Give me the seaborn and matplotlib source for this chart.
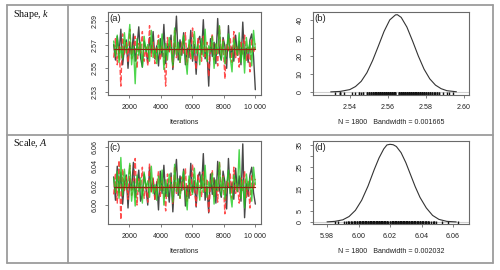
import numpy as np
import matplotlib
matplotlib.use('Agg')
import matplotlib.pyplot as plt
from matplotlib.lines import Line2D
import seaborn as sns

# ---- MCMC chains (thinned) ----
k_black = [2.570, 2.557, 2.577, 2.562, 2.583, 2.553, 2.567, 2.574, 2.550, 2.572,
           2.561, 2.579, 2.556, 2.568, 2.585, 2.559, 2.551, 2.573, 2.566, 2.555,
           2.576, 2.563, 2.581, 2.558, 2.569, 2.552, 2.575, 2.560, 2.587, 2.554,
           2.571, 2.564, 2.578, 2.549, 2.568, 2.594, 2.557, 2.574, 2.561, 2.580,
           2.553, 2.567, 2.559, 2.582, 2.556, 2.570, 2.545, 2.573, 2.577, 2.562,
           2.591, 2.558, 2.566, 2.535, 2.575, 2.560, 2.572, 2.554, 2.592, 2.563,
           2.557, 2.576, 2.569, 2.550, 2.586, 2.559, 2.568, 2.556, 2.578, 2.561,
           2.573, 2.553, 2.589, 2.558, 2.567, 2.555, 2.574, 2.579, 2.560, 2.532]
k_red = [2.559, 2.575, 2.553, 2.569, 2.535, 2.579, 2.562, 2.573, 2.555, 2.583,
         2.558, 2.567, 2.577, 2.550, 2.571, 2.563, 2.581, 2.556, 2.568, 2.552,
         2.586, 2.560, 2.572, 2.554, 2.566, 2.578, 2.557, 2.570, 2.561, 2.535,
         2.576, 2.564, 2.574, 2.551, 2.582, 2.559, 2.569, 2.555, 2.573, 2.562,
         2.580, 2.553, 2.571, 2.558, 2.584, 2.563, 2.549, 2.575, 2.568, 2.556,
         2.577, 2.560, 2.572, 2.543, 2.567, 2.579, 2.557, 2.570, 2.552, 2.585,
         2.561, 2.574, 2.541, 2.571, 2.564, 2.576, 2.555, 2.581, 2.559, 2.568,
         2.551, 2.573, 2.562, 2.578, 2.556, 2.569, 2.547, 2.575, 2.563, 2.571]
k_green = [2.573, 2.560, 2.578, 2.555, 2.568, 2.558, 2.580, 2.563, 2.571, 2.587,
           2.553, 2.569, 2.537, 2.575, 2.561, 2.572, 2.551, 2.577, 2.564, 2.570,
           2.556, 2.582, 2.559, 2.567, 2.554, 2.574, 2.562, 2.579, 2.549, 2.571,
           2.557, 2.576, 2.566, 2.552, 2.584, 2.561, 2.572, 2.555, 2.568, 2.578,
           2.559, 2.545, 2.574, 2.567, 2.558, 2.581, 2.563, 2.570, 2.553, 2.575,
           2.560, 2.583, 2.556, 2.569, 2.564, 2.577, 2.550, 2.571, 2.562, 2.586,
           2.557, 2.573, 2.554, 2.567, 2.579, 2.559, 2.547, 2.575, 2.568, 2.561,
           2.580, 2.555, 2.571, 2.546, 2.576, 2.563, 2.572, 2.552, 2.582, 2.566]

A_black = [6.029, 6.005, 6.040, 6.013, 6.034, 6.001, 6.023, 6.031, 5.997, 6.028,
           6.016, 6.044, 6.008, 6.021, 6.036, 6.004, 6.011, 6.032, 6.018, 6.000,
           6.039, 6.014, 6.027, 6.006, 6.024, 5.995, 6.035, 6.012, 6.041, 6.009,
           6.022, 6.003, 6.033, 5.993, 6.026, 6.047, 6.010, 6.030, 6.015, 6.037,
           5.999, 6.020, 6.007, 6.043, 6.013, 6.025, 5.998, 6.029, 6.034, 6.017,
           6.053, 6.005, 6.019, 5.992, 6.032, 6.011, 6.028, 6.002, 6.045, 6.016,
           6.008, 6.035, 6.024, 5.996, 6.048, 6.012, 6.023, 6.006, 6.038, 6.014,
           6.030, 6.004, 6.063, 5.987, 6.022, 6.009, 6.031, 6.039, 6.013, 6.001]
A_red = [6.011, 6.033, 6.002, 6.046, 5.985, 6.037, 6.015, 6.029, 6.006, 6.041,
         6.010, 6.022, 6.048, 6.000, 6.027, 6.017, 6.039, 6.007, 6.023, 6.003,
         6.043, 6.013, 6.028, 6.005, 6.020, 6.035, 6.009, 6.025, 6.014, 5.994,
         6.032, 6.018, 6.030, 6.001, 6.040, 6.012, 6.024, 6.007, 6.029, 6.016,
         6.038, 6.004, 6.026, 6.010, 6.042, 6.017, 5.999, 6.031, 6.023, 6.008,
         6.034, 6.013, 6.027, 5.993, 6.021, 6.036, 6.009, 6.025, 6.003, 6.044,
         6.014, 6.030, 5.991, 6.026, 6.018, 6.033, 6.007, 6.039, 6.012, 6.022,
         6.002, 6.028, 6.015, 6.035, 6.008, 6.024, 5.997, 6.031, 6.016, 6.027]
A_green = [6.028, 6.013, 6.035, 6.007, 6.049, 6.010, 6.037, 6.016, 6.026, 6.043,
           6.004, 6.024, 5.999, 6.031, 6.014, 6.028, 6.002, 6.034, 6.018, 6.025,
           6.008, 6.040, 6.012, 6.021, 6.005, 6.030, 6.015, 6.036, 6.000, 6.026,
           6.009, 6.032, 6.020, 6.003, 6.042, 6.014, 6.027, 6.007, 6.023, 6.035,
           6.012, 5.995, 6.030, 6.021, 6.011, 6.038, 6.017, 6.025, 6.005, 6.031,
           6.013, 6.041, 6.008, 6.024, 6.018, 6.033, 6.001, 6.026, 6.015, 6.044,
           6.010, 6.029, 6.006, 6.022, 6.036, 6.012, 5.998, 6.031, 6.023, 6.014,
           6.057, 6.007, 6.026, 5.997, 6.032, 6.016, 6.028, 6.004, 6.039, 6.021]

k_mean = 2.566
A_mean = 6.019

# ---- density curves ----
k_dens_x = [2.530, 2.535, 2.540, 2.543, 2.546, 2.549, 2.552, 2.555, 2.558, 2.561,
            2.564, 2.565, 2.567, 2.570, 2.573, 2.576, 2.579, 2.582, 2.585, 2.588,
            2.591, 2.596]
k_dens_y = [0.05, 0.3, 1.3, 3.0, 5.9, 10.7, 17.5, 25.5, 33.7, 40.1,
            42.9, 43.0, 41.5, 36.1, 28.3, 20.0, 12.7, 7.3, 3.8, 1.8,
            0.7, 0.1]
A_dens_x = [5.980, 5.985, 5.990, 5.994, 5.998, 6.002, 6.006, 6.010, 6.013, 6.016,
            6.018, 6.020, 6.022, 6.024, 6.027, 6.030, 6.033, 6.036, 6.039, 6.043,
            6.047, 6.051, 6.056, 6.062]
A_dens_y = [0.07, 0.3, 1.0, 2.5, 5.3, 9.9, 16.3, 23.9, 29.1, 33.2,
            35.0, 35.3, 35.1, 34.3, 31.5, 27.0, 21.5, 16.0, 11.2, 6.4,
            3.0, 1.2, 0.3, 0.05]

k_bw = 'N = 1800   Bandwidth = 0.001665'
A_bw = 'N = 1800   Bandwidth = 0.002032'

# ---- ticks ----
iter_ticks = [2000, 4000, 6000, 8000, 10000]
iter_labels = ['2000', '4000', '6000', '8000', '10 000']
k_trace_ticks = [2.53, 2.54, 2.55, 2.56, 2.57, 2.58, 2.59]
k_trace_labels = ['2.53', '', '2.55', '', '2.57', '', '2.59']
A_trace_ticks = [6.00, 6.02, 6.04, 6.06]
A_trace_labels = ['6.00', '6.02', '6.04', '6.06']
k_dens_xticks = [2.54, 2.56, 2.58, 2.60]
k_dens_yticks = [0, 10, 20, 30, 40]
A_dens_xticks = [5.98, 6.00, 6.02, 6.04, 6.06]
A_dens_yticks = [0, 5, 10, 15, 20, 25, 30, 35]
A_dens_ylabels = ['0', '5', '', '15', '', '25', '', '35']

sns.set_style('ticks')
plt.rcParams['font.family'] = ['Liberation Sans', 'DejaVu Sans']
plt.rcParams['mathtext.fontset'] = 'custom'
plt.rcParams['mathtext.it'] = 'Liberation Serif:italic'
plt.rcParams['mathtext.rm'] = 'Liberation Serif'

W, H = 500, 270
fig = plt.figure(figsize=(5, 2.7), dpi=100)


def box(l, t, r, b):
    return [l / W, 1 - b / H, (r - l) / W, (b - t) / H]


def hline(x0, x1, y):
    fig.add_artist(Line2D([x0 / W, x1 / W], [1 - y / H, 1 - y / H],
                          transform=fig.transFigure, color='#9c9c9c', lw=1.3))


def vline(x, y0, y1):
    fig.add_artist(Line2D([x / W, x / W], [1 - y0 / H, 1 - y1 / H],
                          transform=fig.transFigure, color='#9c9c9c', lw=1.3))


# table grid
hline(7, 493, 5)
hline(7, 493, 135)
hline(7, 493, 263)
vline(7, 5, 263)
vline(68, 5, 263)
vline(493, 5, 263)

fig.text(13 / W, 1 - 8 / H, 'Shape, $k$', family='Liberation Serif',
         fontsize=7.3, va='top', ha='left', color='#111')
fig.text(13 / W, 1 - 138 / H, 'Scale, $A$', family='Liberation Serif',
         fontsize=7.3, va='top', ha='left', color='#111')


def style(ax, tag):
    for s in ax.spines.values():
        s.set_visible(True)
        s.set_color('#6a6a6a')
        s.set_linewidth(0.8)
    ax.tick_params(length=2.5, width=0.6, color='#6a6a6a', labelsize=5.1,
                   labelcolor='#222', pad=4)
    for lab in ax.get_yticklabels():
        lab.set_rotation(90)
        lab.set_va('center')
    ax.text(0.012, 0.975, tag, transform=ax.transAxes, ha='left', va='top',
            fontsize=6.8, color='#222')


chain_cols = ['#1a1a1a', '#ff3030', '#22cc22']
chain_ls = ['-', '--', '-']
chain_alpha = [0.8, 0.85, 0.8]


def trace(ax, chains, mean, ylim, yticks, ylabels, tag):
    iters = np.linspace(1000, 10000, len(chains[0]))
    for vals, c, ls, a in zip(chains, chain_cols, chain_ls, chain_alpha):
        sns.lineplot(x=iters, y=vals, ax=ax, color=c, linestyle=ls, lw=1.0,
                     alpha=a, estimator=None, sort=False)
    ax.plot([1000, 10000], [mean, mean], color='#8a2a10', lw=0.9)
    ax.set_xlim(640, 10360)
    ax.set_ylim(*ylim)
    ax.set_xticks(iter_ticks)
    ax.set_xticklabels(iter_labels)
    ax.set_yticks(yticks)
    ax.set_yticklabels(ylabels)
    ax.set_xlabel('Iterations', fontsize=5.1, color='#222', labelpad=6)
    ax.set_ylabel('')
    style(ax, tag)


def dens(ax, x, y, samples, xlim, ylim, xticks, yticks, ylabels, bw, tag):
    ax.axhline(0, color='#cfcfcf', lw=0.8)
    sns.rugplot(x=samples, ax=ax, height=0.035, color='#111', lw=0.9)
    sns.lineplot(x=x, y=y, ax=ax, color='#333', lw=0.8, estimator=None, sort=False)
    ax.set_xlim(*xlim)
    ax.set_ylim(*ylim)
    ax.set_xticks(xticks)
    ax.set_xticklabels(['%.2f' % v for v in xticks])
    ax.set_yticks(yticks)
    ax.set_yticklabels(ylabels)
    ax.set_xlabel(bw, fontsize=5.1, color='#222', labelpad=6)
    ax.set_ylabel('')
    style(ax, tag)


ax_a = fig.add_axes(box(108, 12, 261, 95))
ax_b = fig.add_axes(box(313, 12, 469, 95))
ax_c = fig.add_axes(box(108, 141, 261, 224))
ax_d = fig.add_axes(box(313, 141, 469, 224))

trace(ax_a, [k_black, k_red, k_green], k_mean, (2.5275, 2.5975),
      k_trace_ticks, k_trace_labels, '(a)')
dens(ax_b, k_dens_x, k_dens_y, k_black + k_red + k_green, (2.5207, 2.6026),
     (-1.7, 44.5), k_dens_xticks, k_dens_yticks,
     [str(v) for v in k_dens_yticks], k_bw, '(b)')
trace(ax_c, [A_black, A_red, A_green], A_mean, (5.9805, 6.066),
      A_trace_ticks, A_trace_labels, '(c)')
dens(ax_d, A_dens_x, A_dens_y, A_black + A_red + A_green, (5.9711, 6.0701),
     (-0.9, 36.8), A_dens_xticks, A_dens_yticks, A_dens_ylabels, A_bw, '(d)')

fig.savefig('out.png', dpi=100)
